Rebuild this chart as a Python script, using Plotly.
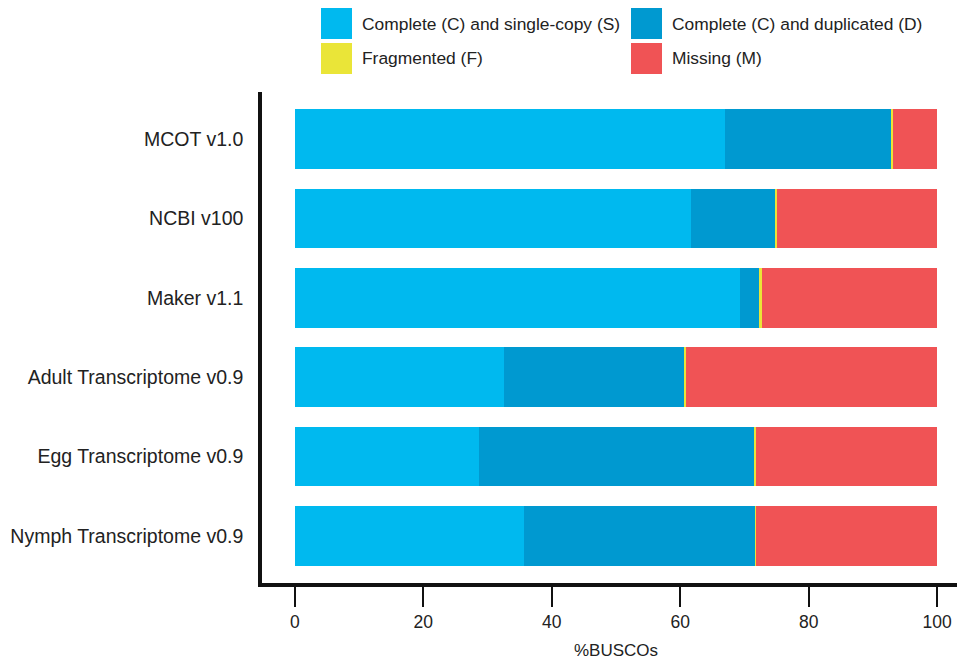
import plotly.graph_objects as go

categories = ["MCOT v1.0", "NCBI v100", "Maker v1.1",
              "Adult Transcriptome v0.9", "Egg Transcriptome v0.9",
              "Nymph Transcriptome v0.9"]
series_names = ["Complete (C) and single-copy (S)", "Complete (C) and duplicated (D)",
                "Fragmented (F)", "Missing (M)"]
single_copy = [66.9, 61.7, 69.3, 32.6, 28.7, 35.7]
duplicated = [26.0, 13.0, 3.0, 28.0, 42.8, 36.0]
fragmented = [0.3, 0.4, 0.4, 0.3, 0.3, 0.1]
missing = [6.8, 24.9, 27.3, 39.1, 28.2, 28.2]
colors = ["#00B9EF", "#0099D0", "#EAE538", "#F05355"]
x_ticks = [0, 20, 40, 60, 80, 100]

W, H = 957, 659
ML, MR, MT, MB = 262, 0, 92, 76
PW, PH = W - ML - MR, H - MT - MB

def px_x(p):
    return (p - ML) / PW

def px_y(p):
    return (H - MB - p) / PH

FONT = "Liberation Sans, Arial, Helvetica, sans-serif"

fig = go.Figure()
for name, vals, col in zip(series_names, [single_copy, duplicated, fragmented, missing], colors):
    fig.add_trace(go.Bar(
        y=categories, x=vals, name=name, orientation="h",
        marker=dict(color=col, line=dict(width=0)),
        width=0.75, showlegend=False,
    ))

# custom legend (2 columns x 2 rows) with large swatches
leg_pos = [(321, 8), (631, 8), (321, 43), (631, 43)]
sw = 31
shapes = []
annotations = []
for (lx, ly), name, col in zip(leg_pos, series_names, colors):
    shapes.append(dict(type="rect", xref="paper", yref="paper",
                       x0=px_x(lx), x1=px_x(lx + sw),
                       y0=px_y(ly + sw), y1=px_y(ly),
                       fillcolor=col, line=dict(width=0)))
    annotations.append(dict(xref="paper", yref="paper", x=px_x(lx + sw + 8),
                            y=px_y(ly + sw / 2), xanchor="left", yanchor="middle",
                            text=name, showarrow=False,
                            font=dict(family=FONT, size=17.4, color="#222222")))

annotations.append(dict(xref="x", yref="paper", x=50, y=px_y(650),
                        xanchor="center", yanchor="middle", text="%BUSCOs",
                        showarrow=False, font=dict(family=FONT, size=17, color="#222222")))

fig.update_layout(
    width=W, height=H,
    margin=dict(l=ML, r=MR, t=MT, b=MB, pad=0),
    barmode="stack",
    plot_bgcolor="white", paper_bgcolor="white",
    font=dict(family=FONT, color="#222222"),
    shapes=shapes, annotations=annotations,
    xaxis=dict(range=[-5.12, 103.1], tickmode="array", tickvals=x_ticks,
               ticktext=[str(v) for v in x_ticks],
               ticks="outside", ticklen=20, tickwidth=2, tickcolor="#111111",
               showline=True, linewidth=3.5, linecolor="#111111",
               showgrid=False, zeroline=False,
               tickfont=dict(family=FONT, size=17.5, color="#222222")),
    yaxis=dict(categoryorder="array", categoryarray=categories,
               range=[5.59, -0.59], ticks="", ticklabelstandoff=11,
               showline=True, linewidth=3.5, linecolor="#111111",
               showgrid=False, zeroline=False,
               tickfont=dict(family=FONT, size=19.5, color="#222222")),
)

fig.write_html("out.html", config={"displayModeBar": False},
               post_script="document.body.style.margin='0';document.body.style.padding='0';"
                           "document.body.style.overflow='hidden';")
